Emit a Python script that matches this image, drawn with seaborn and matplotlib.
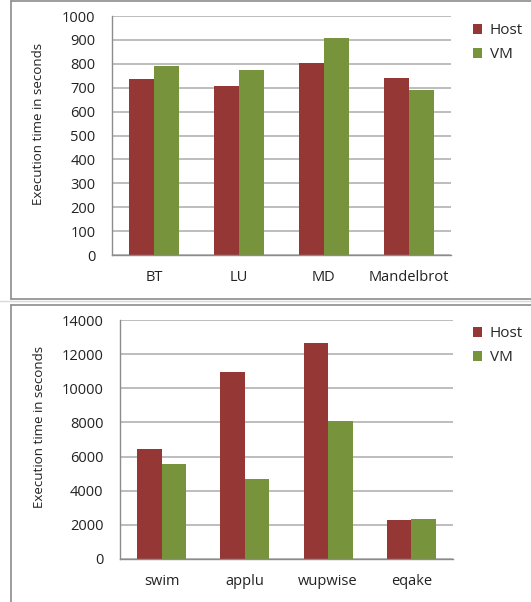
import numpy as np
import pandas as pd
import seaborn as sns
import matplotlib.pyplot as plt
from matplotlib.patches import Patch
from matplotlib.lines import Line2D

# data
npb_benchmarks = ["BT", "LU", "MD", "Mandelbrot"]
npb_host = [736, 706, 803, 739]
npb_vm = [789, 775, 910, 692]

spec_benchmarks = ["swim", "applu", "wupwise", "eqake"]
spec_host = [6420, 10950, 12650, 2290]
spec_vm = [5560, 4660, 8110, 2370]

series = ["Host", "VM"]
colors = {"Host": "#953735", "VM": "#77933C"}

W, H = 531, 602
sns.set_style("white")
plt.rcParams["font.family"] = ["Open Sans", "DejaVu Sans"]

fig = plt.figure(figsize=(W / 100, H / 100), dpi=100)


def px_axes(left, top, right, bottom):
    return fig.add_axes([left / W, 1 - bottom / H, (right - left) / W, (bottom - top) / H])


def draw_panel(ax, cats, host, vm, ymax, step, legend_y, label_xy):
    df = pd.DataFrame({
        "bench": cats * 2,
        "series": ["Host"] * len(cats) + ["VM"] * len(cats),
        "value": host + vm,
    })
    sns.barplot(data=df, x="bench", y="value", hue="series", palette=colors,
                width=0.59, saturation=1, ax=ax, legend=False, edgecolor="none")
    ax.set_ylim(0, ymax)
    ax.set_xlim(-0.5, len(cats) - 0.5)
    ax.set_yticks(np.arange(0, ymax + 1, step))
    ax.yaxis.grid(True, color="#ABABAB", linewidth=1.1)
    ax.set_axisbelow(True)
    # category boundaries as major ticks, labels on minor ticks
    ax.set_xticks(np.arange(-0.5, len(cats), 1.0))
    ax.set_xticklabels([])
    ax.set_xticks(range(len(cats)), minor=True)
    ax.set_xticklabels(cats, minor=True)
    ax.tick_params(axis="x", which="major", length=3.6, color="#8C8C8C", width=1)
    ax.tick_params(axis="x", which="minor", length=0, pad=11, labelsize=10.5, labelcolor="#222222")
    ax.tick_params(axis="y", length=4.3, color="#8C8C8C", width=1, labelsize=10.5, labelcolor="#222222", pad=7.5)
    for s in ["top", "right"]:
        ax.spines[s].set_visible(False)
    for s in ["left", "bottom"]:
        ax.spines[s].set_color("#8C8C8C")
        ax.spines[s].set_linewidth(1)
    ax.set_xlabel("")
    ax.set_ylabel("Execution time in seconds", fontsize=9.6, color="#222222")
    ax.yaxis.set_label_coords(*label_xy)
    handles = [Patch(facecolor=colors[s], edgecolor="none") for s in series]
    fig.legend(handles, series, loc="upper left",
               bbox_to_anchor=(467 / W, 1 - legend_y / H),
               frameon=False, fontsize=11, handlelength=0.6, handleheight=0.6,
               handletextpad=0.5, labelspacing=0.6, borderaxespad=0)


ax1 = px_axes(112, 16, 451, 255)
draw_panel(ax1, npb_benchmarks, npb_host, npb_vm, 1000, 100, 17,
           ((45 - 112) / 339, (255 - 124) / 239))

ax2 = px_axes(120, 320, 453, 559)
draw_panel(ax2, spec_benchmarks, spec_host, spec_vm, 14000, 2000, 320,
           ((46 - 120) / 333, (559 - 427) / 239))

# panel frames
border = "#8C8C8C"
for xs, ys in [([11, W], [1, 1]), ([11, 11], [1, 299]), ([11, W], [299, 299]),
               ([11, W], [305, 305]), ([11, 11], [305, H])]:
    fig.add_artist(Line2D([x / W for x in xs], [1 - y / H for y in ys],
                          color=border, linewidth=1.2))
fig.add_artist(Line2D([0, 1], [1 - 301 / H, 1 - 301 / H], color="#D9D9D9", linewidth=1))

fig.savefig("out.png", dpi=100)
